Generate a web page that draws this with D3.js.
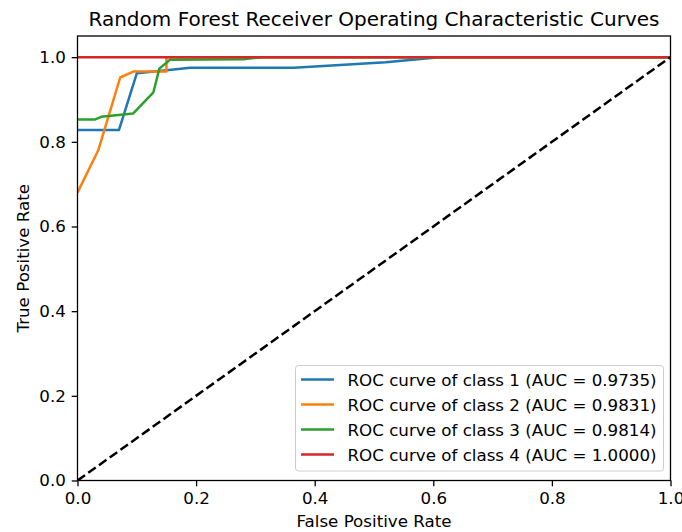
<!DOCTYPE html>
<html>
<head>
<meta charset="utf-8">
<script src="https://cdn.jsdelivr.net/npm/d3@7"></script>
<style>
  body { margin: 0; background: #fff; }
  svg { display: block; font-family: "DejaVu Sans", sans-serif; }
</style>
</head>
<body>
<div id="chart"></div>
<script>
// ROC points: [fpr, tpr]
const class1 = [[0, 0.828], [0.07, 0.828], [0.10, 0.962], [0.15, 0.969], [0.19, 0.975],
                [0.365, 0.975], [0.52, 0.988], [0.61, 1.0], [1, 1]];
const class2 = [[0, 0.68], [0.035, 0.78], [0.072, 0.952], [0.094, 0.966], [0.15, 0.966],
                [0.15, 1.0], [1, 1]];
const class3 = [[0, 0.853], [0.03, 0.853], [0.04, 0.859], [0.094, 0.867], [0.128, 0.917],
                [0.138, 0.973], [0.156, 0.994], [0.28, 0.995], [0.31, 1.0], [1, 1]];
const class4 = [[0, 1], [1, 1]];
const chance = [[0, 0], [1, 1]];

const seriesNames = ["ROC curve of class 1 (AUC = 0.9735)",
                     "ROC curve of class 2 (AUC = 0.9831)",
                     "ROC curve of class 3 (AUC = 0.9814)",
                     "ROC curve of class 4 (AUC = 1.0000)"];
const colors = ["#1f77b4", "#ff7f0e", "#2ca02c", "#d62728"];
const xTicks = [0, 0.2, 0.4, 0.6, 0.8, 1.0];
const yTicks = [0, 0.2, 0.4, 0.6, 0.8, 1.0];

const width = 682, height = 532;
const margin = { top: 36, right: 11.5, bottom: 51.5, left: 77.5 };
const fs = 16.7; // 10pt at this figure's dpi

const svg = d3.select("#chart").append("svg")
  .attr("width", width)
  .attr("height", height);

const x = d3.scaleLinear().domain([0, 1]).range([margin.left, width - margin.right]);
const y = d3.scaleLinear().domain([0, 1.05]).range([height - margin.bottom, margin.top]);

const line = d3.line().x(d => x(d[0])).y(d => y(d[1]));

const plot = svg.append("g");
plot.append("clipPath").attr("id", "clip")
  .append("rect")
  .attr("x", x(0)).attr("y", y(1.05))
  .attr("width", x(1) - x(0)).attr("height", y(0) - y(1.05));

const curves = plot.append("g").attr("clip-path", "url(#clip)");
[class1, class2, class3, class4].forEach((pts, i) => {
  curves.append("path")
    .datum(pts)
    .attr("d", line)
    .attr("fill", "none")
    .attr("stroke", colors[i])
    .attr("stroke-width", 2.5)
    .attr("stroke-linejoin", "round");
});
curves.append("path")
  .datum(chance)
  .attr("d", line)
  .attr("fill", "none")
  .attr("stroke", "#000")
  .attr("stroke-width", 2.5)
  .attr("stroke-dasharray", "9.2,4");

// axes
const xAxis = svg.append("g")
  .attr("transform", `translate(0,${y(0)})`)
  .call(d3.axisBottom(x).tickValues(xTicks).tickFormat(d3.format(".1f")).tickSizeOuter(0).tickSize(5.8).tickPadding(5.8));
const yAxis = svg.append("g")
  .attr("transform", `translate(${x(0)},0)`)
  .call(d3.axisLeft(y).tickValues(yTicks).tickFormat(d3.format(".1f")).tickSizeOuter(0).tickSize(5.8).tickPadding(5.8));
[xAxis, yAxis].forEach(a => {
  a.select(".domain").remove();
  a.selectAll("line").attr("stroke", "#000").attr("stroke-width", 1.3);
  a.selectAll("text").attr("font-size", fs).attr("fill", "#000")
    .attr("font-family", "DejaVu Sans");
});

// frame
svg.append("rect")
  .attr("x", x(0)).attr("y", y(1.05))
  .attr("width", x(1) - x(0)).attr("height", y(0) - y(1.05))
  .attr("fill", "none")
  .attr("stroke", "#000")
  .attr("stroke-width", 1.3);

// labels
svg.append("text")
  .attr("x", (x(0) + x(1)) / 2).attr("y", 26)
  .attr("text-anchor", "middle")
  .attr("font-size", 20)
  .text("Random Forest Receiver Operating Characteristic Curves");
svg.append("text")
  .attr("x", (x(0) + x(1)) / 2).attr("y", 527)
  .attr("text-anchor", "middle")
  .attr("font-size", fs)
  .text("False Positive Rate");
svg.append("text")
  .attr("transform", `translate(29,${(y(0) + y(1.05)) / 2}) rotate(-90)`)
  .attr("text-anchor", "middle")
  .attr("font-size", fs)
  .text("True Positive Rate");

// legend
const legend = svg.append("g");
legend.append("rect")
  .attr("x", 295.5).attr("y", 365.5)
  .attr("width", 368).attr("height", 105.5)
  .attr("rx", 3)
  .attr("fill", "#fff").attr("fill-opacity", 0.8)
  .attr("stroke", "#ccc").attr("stroke-width", 1);
seriesNames.forEach((name, i) => {
  const ly = 379.5 + i * 25;
  legend.append("line")
    .attr("x1", 301).attr("x2", 334)
    .attr("y1", ly).attr("y2", ly)
    .attr("stroke", colors[i]).attr("stroke-width", 2.5);
  legend.append("text")
    .attr("x", 347.5).attr("y", ly + 6)
    .attr("font-size", fs)
    .text(name);
});
</script>
</body>
</html>
